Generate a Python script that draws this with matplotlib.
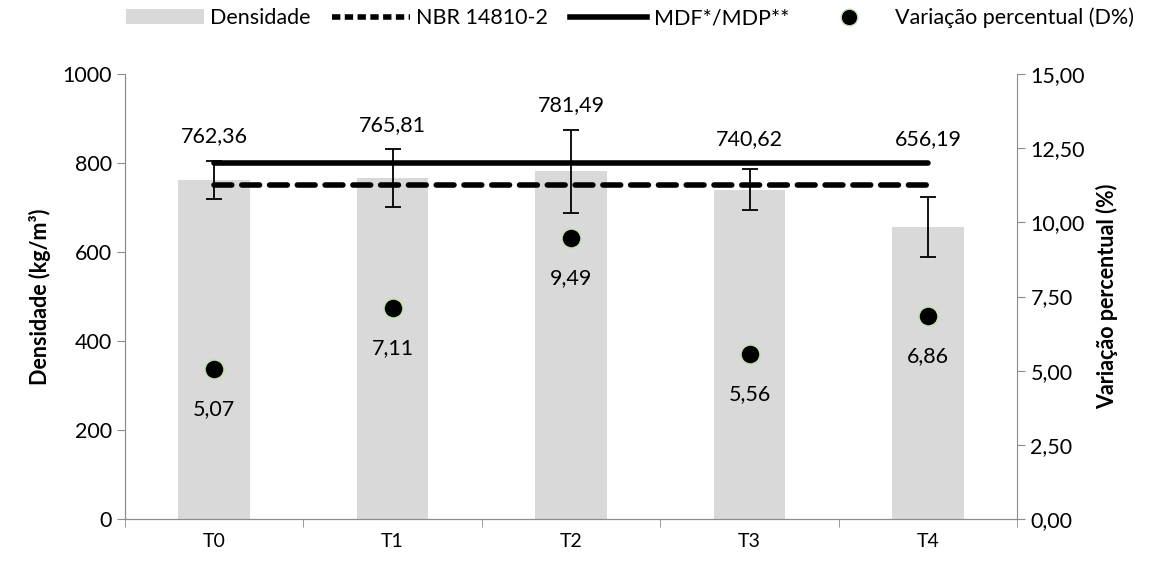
import numpy as np
import matplotlib
matplotlib.use("Agg")
import matplotlib.pyplot as plt
from matplotlib.patches import Patch
from matplotlib.lines import Line2D

# chart data
tratamentos = ["T0", "T1", "T2", "T3", "T4"]
densidade = [762.36, 765.81, 781.49, 740.62, 656.19]
desvio = [43, 65, 94, 46, 68]
variacao = [5.07, 7.11, 9.49, 5.56, 6.86]
nbr = 750
mdf_mdp = 800

plt.rcParams['font.family'] = ['Lato', 'DejaVu Sans']
axis_grey = '#8c8c8c'
fs = 15.5

fig = plt.figure(figsize=(11.56, 5.67), dpi=100)
ax = fig.add_axes([0.108, 0.085, 0.772, 0.784])
ax2 = ax.twinx()

x = np.arange(len(tratamentos))
ax.bar(x, densidade, width=0.4, color='#d9d9d9', zorder=1)
ax.errorbar(x, densidade, yerr=desvio, fmt='none', ecolor='black',
            elinewidth=1.3, capsize=6, capthick=1.3, zorder=3)
ax.plot([x[0], x[-1]], [nbr, nbr], color='black', lw=4, ls=(0, (3.2, 1.8)),
        zorder=2, dash_capstyle='round')
ax.plot([x[0], x[-1]], [mdf_mdp, mdf_mdp], color='black', lw=4,
        solid_capstyle='round', zorder=2)

for xi, d, e in zip(x, densidade, desvio):
    ax.text(xi, max(d + e, mdf_mdp) + 55, f"{d:.2f}".replace('.', ','),
            ha='center', va='center', fontsize=fs)

ax2.scatter(x, variacao, s=190, color='black', edgecolor='#c5e0b4',
            linewidth=1.2, zorder=4)
for xi, v in zip(x, variacao):
    ax2.annotate(f"{v:.2f}".replace('.', ','), (xi, v), xytext=(0, -29),
                 textcoords='offset points', ha='center', va='center',
                 fontsize=fs)

ax.set_xlim(-0.5, 4.5)
ax.set_ylim(0, 1000)
ax2.set_ylim(0, 15)
ax.set_yticks(range(0, 1001, 200))
ax2.set_yticks(np.arange(0, 15.1, 2.5))
ax2.set_yticklabels([f"{v:.2f}".replace('.', ',') for v in np.arange(0, 15.1, 2.5)])
ax.set_xticks(x)
ax.set_xticklabels(tratamentos)
ax.set_xticks(np.arange(-0.5, 5, 1), minor=True)
ax.tick_params(axis='x', which='major', length=0, labelsize=14, pad=10)
ax.tick_params(axis='x', which='minor', length=6, color=axis_grey, direction='out')
ax.tick_params(axis='y', length=6, color=axis_grey, labelsize=fs)
ax2.tick_params(axis='y', length=6, color=axis_grey, labelsize=fs)

for a in (ax, ax2):
    a.spines['top'].set_visible(False)
    for s in ('left', 'right', 'bottom'):
        a.spines[s].set_color(axis_grey)
ax.spines['right'].set_visible(False)

ax.set_ylabel("Densidade (kg/m³)", fontsize=fs, fontweight='bold', labelpad=8)
ax2.set_ylabel("Variação percentual (%)", fontsize=fs, fontweight='bold', labelpad=8)

handles = [
    Patch(facecolor='#d9d9d9', edgecolor='none'),
    Line2D([], [], color='black', lw=4, ls=(0, (1.5, 0.8))),
    Line2D([], [], color='black', lw=4),
    Line2D([], [], ls='none', marker='o', markersize=12, markerfacecolor='black',
           markeredgecolor='#c5e0b4'),
]
labels = ["Densidade", "NBR 14810-2", "MDF*/MDP**", "Variação percentual (D%)"]
fig.legend(handles, labels, loc='center', bbox_to_anchor=(0.545, 0.968), ncol=4,
           frameon=False, fontsize=fs, handlelength=3.6, columnspacing=1.0,
           handletextpad=0.3)

fig.savefig("out.png", dpi=100)
